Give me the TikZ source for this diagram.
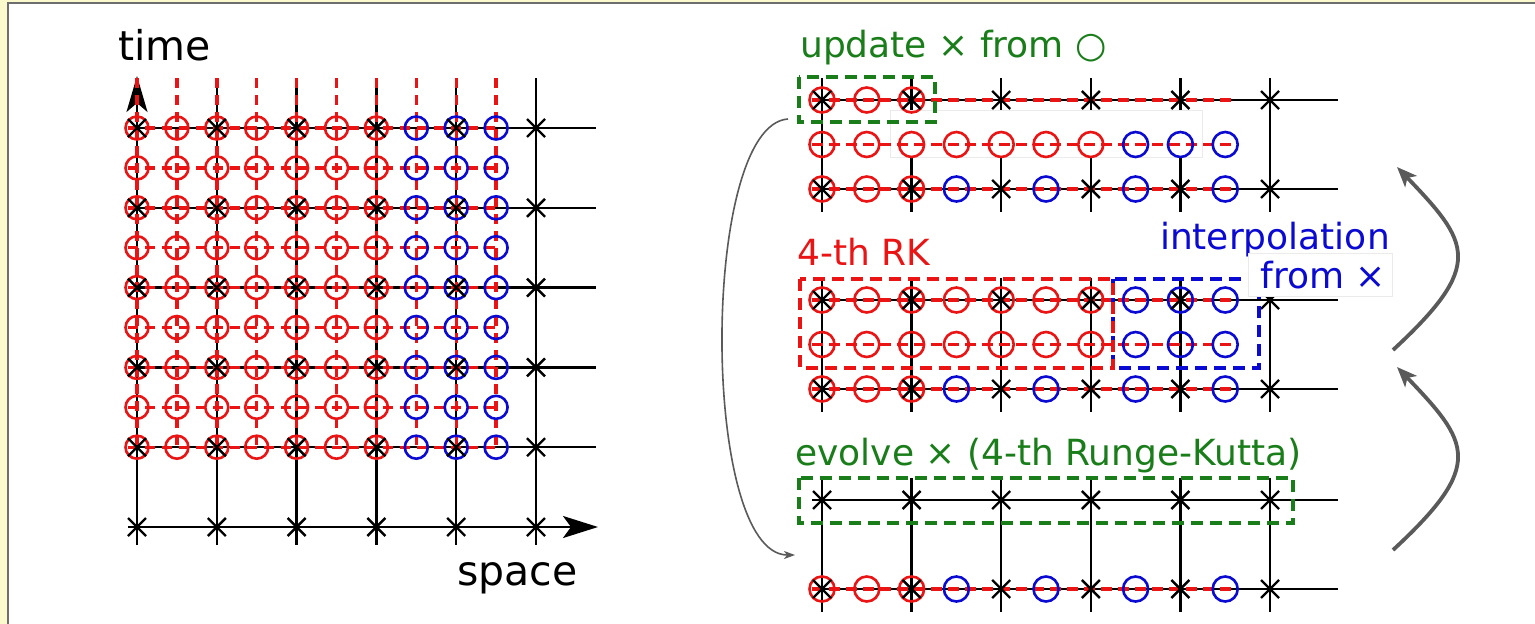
\documentclass[tikz,border=0pt]{standalone}
\usepackage{fontspec}
\setmainfont{DejaVu Sans}
\usetikzlibrary{arrows.meta}
\definecolor{cred}{RGB}{235,20,20}
\definecolor{cblue}{RGB}{10,10,210}
\definecolor{cgreen}{RGB}{25,125,25}
\definecolor{cgray}{RGB}{90,90,90}
\definecolor{cyell}{RGB}{250,250,205}
\definecolor{cframe}{RGB}{110,110,110}
\newcommand\myrow[2]{\foreach \k/\cc in {#2}{\draw[\cc, line width=2.6pt] ({822+44.8*\k},#1) circle[radius=12.5pt];}}
\newcommand\myxrow[1]{\foreach \m in {0,...,5}{\pic at ({822+89.6*\m},#1) {xmk};}}
\begin{document}
\begin{tikzpicture}[x=1pt,y=-1pt,
  blk/.style={black, line width=2.3pt},
  rdash/.style={cred, line width=3.4pt, dash pattern=on 10pt off 7pt},
  gbox/.style={cgreen, line width=3.3pt, dash pattern=on 12pt off 7pt},
  rbox/.style={cred, line width=3.3pt, dash pattern=on 12pt off 7pt},
  bbox/.style={cblue, line width=3.3pt, dash pattern=on 12pt off 7pt},
  big/.style={inner sep=0pt, anchor=base west, font=\fontsize{41}{41}\selectfont},
  lab/.style={inner sep=0pt, anchor=base west, font=\fontsize{36}{36}\selectfont},
  bigarr/.style={cgray, line width=3.8pt, -{Stealth[length=20pt,width=16pt,inset=5pt]}},
  xmk/.pic={\draw[black, line width=2.4pt] (-9,-9)--(9,9) (-9,9)--(9,-9);}
]
\useasboundingbox (0,0) rectangle (1535,624);
\fill[cyell] (0,0) rectangle (1535,624);
\fill[white] (8,3) rectangle (1535,624);
\draw[cframe, line width=2pt] (8,624) -- (8,3) -- (1535,3);

% ---------------- left grid ----------------
\coordinate (t0) at (137,545);
\coordinate (t1) at (137,76);
\coordinate (s0) at (128,527);
\coordinate (s1) at (598,527);
\draw[blk, -{Stealth[length=36pt,width=21pt,inset=9pt]}] (t0) -- (t1);
\foreach \c in {1,...,5}{\draw[blk] ({137+79.8*\c},545) -- ({137+79.8*\c},78);}
\foreach \r in {0,...,4}{\draw[blk] (128,{128+79.8*\r}) -- (596,{128+79.8*\r});}
\draw[blk, -{Stealth[length=35pt,width=22pt,inset=8pt]}] (s0) -- (s1);
\foreach \i in {0,...,9}{\draw[rdash] ({137+39.9*\i},78) -- ({137+39.9*\i},447);}
\foreach \j in {0,...,8}{\draw[rdash] (128,{128+39.9*\j}) -- (496,{128+39.9*\j});}
\foreach \j in {0,...,8}{
  \foreach \i in {0,...,9}{
    \ifnum\i<7 \def\cc{cred}\else\def\cc{cblue}\fi
    \draw[\cc, line width=2.6pt] ({137+39.9*\i},{128+39.9*\j}) circle[radius=11.5pt];
  }}
\foreach \r in {0,...,4}{\foreach \c in {0,...,5}{\pic at ({137+79.8*\c},{128+79.8*\r}) {xmk};}}
\foreach \c in {0,...,5}{\pic at ({137+79.8*\c},527) {xmk};}
\node[big] (time) at (118,60) {time};
\node[big] (space) at (457,585) {space};

% ---------------- top panel ----------------
\foreach \m in {0,...,5}{\draw[blk] ({822+89.6*\m},78) -- ({822+89.6*\m},212);}
\fill[white] (890,110) rectangle (1202,157);
\draw[black!8, line width=0.8pt] (890,110) rectangle (1202,157);
\draw[blk] (812,100) -- (1338,100);
\draw[blk] (812,189) -- (1338,189);
\foreach \y in {100,144.5,189}{\draw[rdash, dash pattern=on 11pt off 6pt] (812,\y) -- (1237,\y);}
\myrow{100}{0/cred,1/cred,2/cred}
\myrow{144.5}{0/cred,1/cred,2/cred,3/cred,4/cred,5/cred,6/cred,7/cblue,8/cblue,9/cblue}
\myrow{189}{0/cred,1/cred,2/cred,3/cblue,5/cblue,7/cblue,9/cblue}
\myxrow{100}
\myxrow{189}
\draw[gbox] (799,77) rectangle (935,122);
\node[lab, text=cgreen] (upd) at (800,57) {update × from ○};

% ---------------- middle panel ----------------
\foreach \m in {0,...,5}{\draw[blk] ({822+89.6*\m},278) -- ({822+89.6*\m},412);}
\draw[blk] (812,300) -- (1338,300);
\draw[blk] (812,389) -- (1338,389);
\foreach \y in {300,344.5,389}{\draw[rdash, dash pattern=on 11pt off 6pt] (812,\y) -- (1237,\y);}
\myrow{300}{0/cred,1/cred,2/cred,3/cred,4/cred,5/cred,6/cred,7/cblue,8/cblue,9/cblue}
\myrow{344.5}{0/cred,1/cred,2/cred,3/cred,4/cred,5/cred,6/cred,7/cblue,8/cblue,9/cblue}
\myrow{389}{0/cred,1/cred,2/cred,3/cblue,5/cblue,7/cblue,9/cblue}
\myxrow{300}
\myxrow{389}
\draw[bbox] (1113,279) rectangle (1259,368);
\draw[rbox] (800,279) rectangle (1113,368);
\node[lab, text=cred] (rk) at (797,265) {4-th RK};
\node[lab, text=cblue, anchor=base east] (interp) at (1390,249) {interpolation};
\fill[white] (1248,253) rectangle (1392,296);
\draw[black!8, line width=0.8pt] (1248,253) rectangle (1392,296);
\node[lab, text=cblue, anchor=base east] (from) at (1386,288) {from ×};

% ---------------- bottom panel ----------------
\foreach \m in {0,...,5}{\draw[blk] ({822+89.6*\m},478) -- ({822+89.6*\m},612);}
\draw[blk] (812,500) -- (1338,500);
\draw[blk] (812,589) -- (1338,589);
\draw[rdash, dash pattern=on 11pt off 6pt] (812,589) -- (1237,589);
\myrow{589}{0/cred,1/cred,2/cred,3/cblue,5/cblue,7/cblue,9/cblue}
\myxrow{500}
\myxrow{589}
\draw[gbox] (799,478) rectangle (1293,523);
\node[lab, text=cgreen] (evolve) at (795,465) {evolve × (4-th Runge-Kutta)};

% ---------------- arrows ----------------
\coordinate (la0) at (788,119);
\coordinate (la1) at (795,555);
\draw[cgray, line width=1.6pt, -{Stealth[length=11pt,width=8pt,inset=3pt]}] (la0) .. controls (700,125) and (700,555) .. (la1);
\coordinate (ua0) at (1393,350);
\coordinate (ua1) at (1397,167);
\draw[bigarr] (ua0) .. controls (1485,265) and (1470,243) .. (ua1);
\coordinate (da0) at (1393,550);
\coordinate (da1) at (1397,367);
\draw[bigarr] (da0) .. controls (1485,465) and (1470,443) .. (da1);
\end{tikzpicture}
\end{document}
